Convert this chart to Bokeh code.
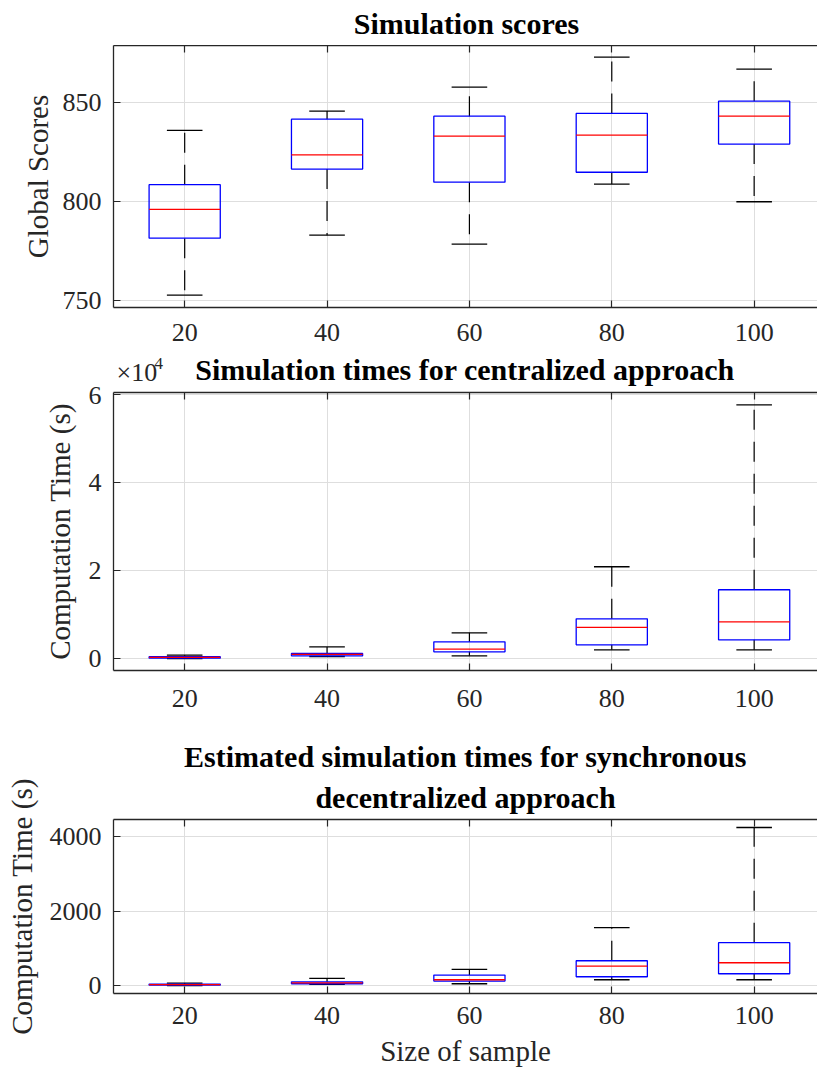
from bokeh.plotting import figure
from bokeh.layouts import column
from bokeh.models import FixedTicker, LinearAxis, Range1d, Title
from bokeh.core.properties import value
from bokeh.embed import file_html
from bokeh.resources import INLINE

# ---------------- data ----------------
sizes = [20, 40, 60, 80, 100]

score_lower = [752.5, 782.8, 778.3, 808.6, 799.7]
score_q1 = [781.3, 816.2, 809.6, 814.6, 828.8]
score_median = [795.8, 823.4, 832.8, 833.3, 842.9]
score_q3 = [808.3, 841.4, 842.9, 844.3, 850.5]
score_upper = [835.7, 845.5, 857.6, 872.7, 866.7]

cent_lower = [60, 540, 680, 2050, 2050]
cent_q1 = [150, 690, 1590, 3180, 4320]
cent_median = [320, 1000, 2200, 7140, 8410]
cent_q3 = [500, 1230, 3860, 9090, 15680]
cent_upper = [840, 2700, 5910, 20900, 57660]

dec_lower = [5, 36, 54, 161, 161]
dec_q1 = [15, 54, 126, 242, 322]
dec_median = [30, 80, 161, 528, 617]
dec_q3 = [45, 107, 287, 671, 1154]
dec_upper = [72, 196, 438, 1557, 4242]

score_ticks = [750, 800, 850]
cent_ticks = [0, 20000, 40000, 60000]
cent_tick_labels = ["0", "2", "4", "6"]
dec_ticks = [0, 2000, 4000]

title1 = "Simulation scores"
title2 = "Simulation times for centralized approach"
title3a = "Estimated simulation times for synchronous"
title3b = "decentralized approach"
exponent_base = "×10"
exponent_power = "4"

# ---------------- style ----------------
FONT = "Liberation Serif"
AXC = "#262626"
GRID = "#dedede"
BOX_W = 10
CAP_W = 5
X_RANGE = (10, 108.9)
WIDTH = 817
LEFT = 113


def make_fig(height, border_top, border_bottom, yrange, yticks, ylabel,
             label_standoff, x_standoff, xlabel=None):
    p = figure(width=WIDTH, height=height,
               x_range=Range1d(*X_RANGE), y_range=Range1d(*yrange),
               output_backend="svg", toolbar_location=None,
               min_border_left=LEFT, min_border_right=0,
               min_border_top=border_top, min_border_bottom=border_bottom,
               title=None)
    p.outline_line_color = None
    p.background_fill_color = "white"
    p.border_fill_color = "white"

    for ax in (p.xaxis[0], p.yaxis[0]):
        ax.major_tick_in = 7
        ax.major_tick_out = 0
        ax.minor_tick_in = 0
        ax.minor_tick_out = 0
        ax.axis_line_color = AXC
        ax.axis_line_width = 1.3
        ax.major_tick_line_color = AXC
        ax.major_tick_line_width = 1.2
        ax.major_label_text_font = FONT
        ax.major_label_text_font_size = "26px"
        ax.major_label_text_color = AXC
        ax.axis_label_text_font = FONT
        ax.axis_label_text_font_size = "29px"
        ax.axis_label_text_font_style = "normal"
        ax.axis_label_text_color = AXC

    p.xaxis.ticker = FixedTicker(ticks=sizes)
    p.xaxis.major_label_standoff = x_standoff
    p.yaxis.ticker = FixedTicker(ticks=yticks)
    p.yaxis.major_label_standoff = 12
    p.yaxis.axis_label = ylabel
    p.yaxis.axis_label_standoff = label_standoff
    if xlabel:
        p.xaxis.axis_label = xlabel
        p.xaxis.axis_label_standoff = 8

    top_ax = LinearAxis(ticker=FixedTicker(ticks=sizes),
                        major_label_text_font_size="0px",
                        major_label_standoff=0,
                        major_tick_in=7, major_tick_out=0,
                        minor_tick_in=0, minor_tick_out=0,
                        axis_line_color=AXC, axis_line_width=1.3,
                        major_tick_line_color=AXC, major_tick_line_width=1.2)
    p.add_layout(top_ax, "above")

    p.xgrid.ticker = FixedTicker(ticks=sizes)
    p.ygrid.ticker = FixedTicker(ticks=yticks)
    p.xgrid.grid_line_color = GRID
    p.ygrid.grid_line_color = GRID
    p.xgrid.grid_line_width = 1
    p.ygrid.grid_line_width = 1
    return p


def make_strip(height):
    # a thin text-only strip; x in page pixels, y in pixels from the strip top
    s = figure(width=WIDTH, height=height, x_range=Range1d(LEFT, WIDTH),
               y_range=Range1d(height, 0), output_backend="svg",
               toolbar_location=None, x_axis_type=None, y_axis_type=None,
               min_border_left=LEFT, min_border_right=0, min_border_top=0,
               min_border_bottom=0, title=None)
    s.outline_line_color = None
    s.xgrid.visible = False
    s.ygrid.visible = False
    return s


def draw_boxes(p, lower, q1, med, q3, upper):
    xs = sizes
    p.segment(x0=xs, y0=q3, x1=xs, y1=upper, line_color="black",
              line_width=1.2, line_dash="20 12")
    p.segment(x0=xs, y0=q1, x1=xs, y1=lower, line_color="black",
              line_width=1.2, line_dash="20 12")
    p.segment(x0=[x - CAP_W / 2 for x in xs], y0=upper,
              x1=[x + CAP_W / 2 for x in xs], y1=upper,
              line_color="black", line_width=1.3)
    p.segment(x0=[x - CAP_W / 2 for x in xs], y0=lower,
              x1=[x + CAP_W / 2 for x in xs], y1=lower,
              line_color="black", line_width=1.3)
    p.quad(left=[x - BOX_W / 2 for x in xs], right=[x + BOX_W / 2 for x in xs],
           bottom=q1, top=q3, fill_color=None, line_color="#0000ff",
           line_width=1.3)
    p.segment(x0=[x - BOX_W / 2 for x in xs], y0=med,
              x1=[x + BOX_W / 2 for x in xs], y1=med,
              line_color="#ff0000", line_width=1.3)


def add_title(p, text, standoff):
    t = Title(text=text, align="center", text_font=FONT,
              text_font_size="30px", text_font_style="bold",
              text_color="black", standoff=standoff)
    p.add_layout(t, "above")


# ---------------- strip with title 1 ----------------
head1 = make_strip(45)
head1.text(x=[466], y=[23], text=[title1], text_font=value(FONT),
           text_font_size="30px", text_font_style="bold", text_color="black",
           text_align="center", text_baseline="middle")

# ---------------- panel 1 ----------------
Y1 = (746.3, 878.6)
p1 = make_fig(307, 0, 45, Y1, score_ticks, "Global Scores", 6, 16)
draw_boxes(p1, score_lower, score_q1, score_median, score_q3, score_upper)

# ---------------- strip with title 2 and exponent ----------------
head2 = make_strip(34)
head2.text(x=[464.5], y=[17], text=[title2], text_font=value(FONT),
           text_font_size="30px", text_font_style="bold", text_color="black",
           text_align="center", text_baseline="middle")
head2.text(x=[116], y=[19.5], text=[exponent_base], text_font=value(FONT),
           text_font_size="26px", text_color=AXC,
           text_align="left", text_baseline="middle")
head2.text(x=[154], y=[10.5], text=[exponent_power], text_font=value(FONT),
           text_font_size="17px", text_color=AXC,
           text_align="left", text_baseline="middle")

# ---------------- panel 2 ----------------
Y2 = (-2640, 60450)
p2 = make_fig(344, 6, 60, Y2, cent_ticks, "Computation Time (s)", 10, 19)
p2.yaxis.major_label_overrides = dict(zip(cent_ticks, cent_tick_labels))
draw_boxes(p2, cent_lower, cent_q1, cent_median, cent_q3, cent_upper)

# ---------------- panel 3 ----------------
Y3 = (-207, 4456)
p3 = make_fig(343, 89, 80, Y3, dec_ticks, "Computation Time (s)", 9, 13,
              xlabel="Size of sample")
draw_boxes(p3, dec_lower, dec_q1, dec_median, dec_q3, dec_upper)
add_title(p3, title3b, 12)
add_title(p3, title3a, 0)

layout = column(head1, p1, head2, p2, p3, spacing=0)
open("out.html", "w").write(file_html(layout, INLINE))
